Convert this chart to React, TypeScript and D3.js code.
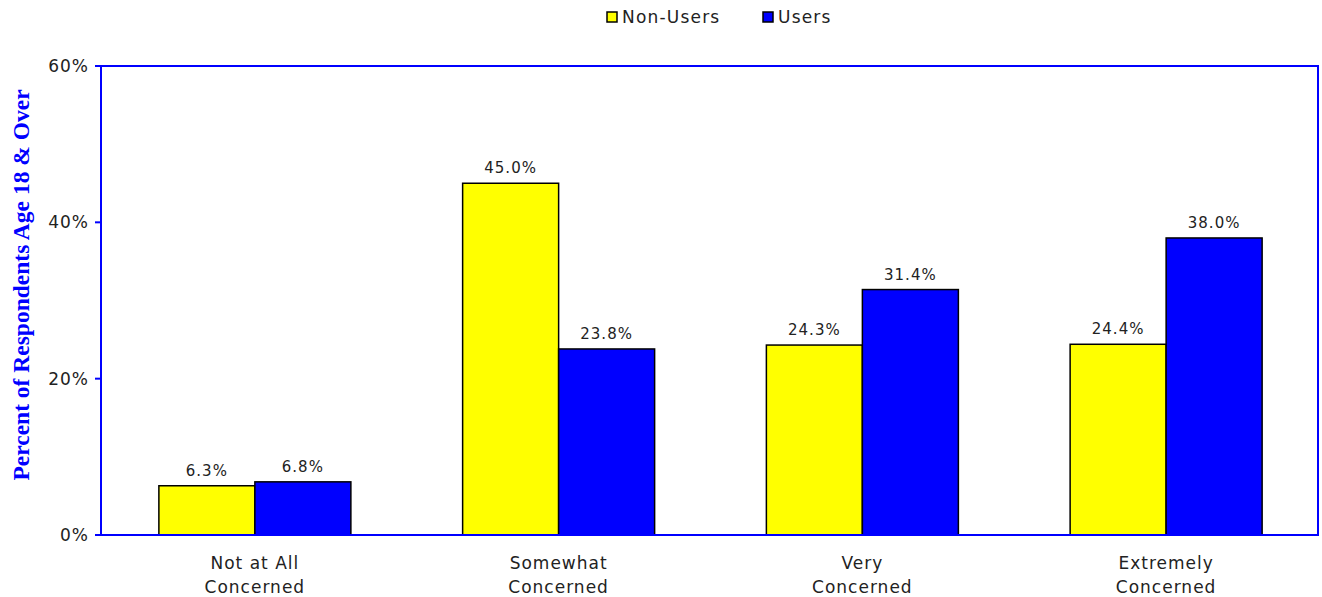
import * as d3 from 'd3'

const categories = [['Not at All', 'Concerned'], ['Somewhat', 'Concerned'], ['Very', 'Concerned'], ['Extremely', 'Concerned']]
const seriesNames = ['Non-Users', 'Users']
const nonUsers = [6.3, 45.0, 24.3, 24.4]
const users = [6.8, 23.8, 31.4, 38.0]
const yTicks = [0, 20, 40, 60]

const colors = ['#ffff00', '#0000ff']
const axisBlue = '#0000ff'
const font = '"DejaVu Sans", Verdana, sans-serif'

const W = 1322
const H = 597
const margin = { top: 66, right: 4, bottom: 62, left: 101 }

const App = () => {
  const innerW = W - margin.left - margin.right
  const innerH = H - margin.top - margin.bottom

  // band range starts a little right of the axis, like the original
  const x = d3.scaleBand<number>().domain(d3.range(categories.length)).range([2, innerW]).padding(0)
  const xs = d3.scaleBand<number>().domain([0, 1]).range([0, 192]).padding(0)
  const y = d3.scaleLinear().domain([0, 60]).range([innerH, 0])
  const series = [nonUsers, users]

  return (
    <svg width={W} height={H} style={{ position: 'absolute', left: 0, top: 0, background: '#fff' }}>
      {/* legend */}
      <g fontFamily={font} fontSize={17} letterSpacing={1.2} fill="#222">
        {seriesNames.map((name, i) => {
          const lx = i === 0 ? 607 : 763
          return (
            <g key={name} transform={`translate(${lx},10)`}>
              <rect x={0} y={2} width={10} height={10} fill={colors[i]} stroke="#000" strokeWidth={1.5} />
              <text x={15} y={13}>{name}</text>
            </g>
          )
        })}
      </g>

      <g transform={`translate(${margin.left},${margin.top})`}>
        {/* bars */}
        {categories.map((_, ci) => {
          const cx = (x(ci) as number) + x.bandwidth() / 2 - 96
          return (
            <g key={ci} transform={`translate(${cx},0)`}>
              {series.map((vals, si) => (
                <g key={si}>
                  <rect
                    x={xs(si)}
                    y={y(vals[ci])}
                    width={xs.bandwidth()}
                    height={innerH - y(vals[ci])}
                    fill={colors[si]}
                    stroke="#000"
                    strokeWidth={1.5}
                  />
                  <text
                    x={(xs(si) as number) + xs.bandwidth() / 2}
                    y={y(vals[ci]) - 10}
                    textAnchor="middle"
                    fontFamily={font}
                    fontSize={15}
                    letterSpacing={1}
                    fill="#222"
                  >
                    {vals[ci].toFixed(1)}%
                  </text>
                </g>
              ))}
            </g>
          )
        })}

        {/* frame */}
        <rect x={0} y={0} width={innerW} height={innerH} fill="none" stroke={axisBlue} strokeWidth={2} />

        {/* y ticks */}
        {yTicks.map((t) => (
          <g key={t} transform={`translate(0,${y(t)})`}>
            <line x1={-6} x2={0} stroke={axisBlue} strokeWidth={2} />
            <text x={-12} dy="0.35em" textAnchor="end" fontFamily={font} fontSize={17} letterSpacing={1} fill="#222">
              {t}%
            </text>
          </g>
        ))}

        {/* x labels */}
        {categories.map((lines, ci) => (
          <text
            key={ci}
            x={(x(ci) as number) + x.bandwidth() / 2}
            y={innerH + 34}
            textAnchor="middle"
            fontFamily={font}
            fontSize={17}
            letterSpacing={1}
            fill="#222"
          >
            {lines.map((l, li) => (
              <tspan key={li} x={(x(ci) as number) + x.bandwidth() / 2} dy={li === 0 ? 0 : 24}>
                {l}
              </tspan>
            ))}
          </text>
        ))}
      </g>

      {/* y title */}
      <text
        transform={`translate(29,${285}) rotate(-90)`}
        textAnchor="middle"
        fontFamily='"Liberation Serif", "Times New Roman", serif'
        fontWeight="bold"
        fontSize={23.5}
        fill={axisBlue}
      >
        Percent of Respondents Age 18 &amp; Over
      </text>
    </svg>
  )
}

export default App
